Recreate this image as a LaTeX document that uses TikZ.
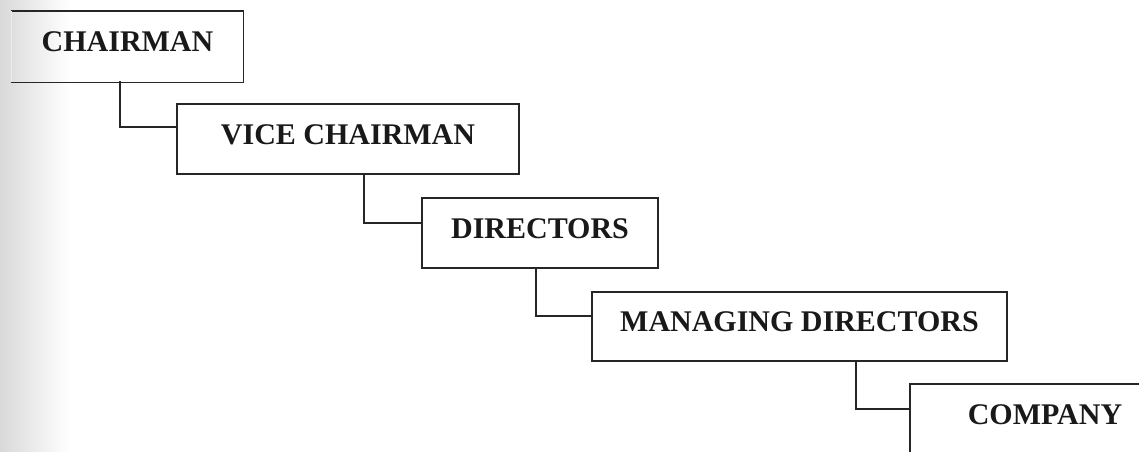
\documentclass[tikz,border=0pt]{standalone}
\usepackage{fontspec}
\setmainfont{Liberation Serif}
\begin{document}
\begin{tikzpicture}[x=1pt,y=-1pt,
  box/.style={draw=black!85, line width=1.2pt, inner sep=0pt, minimum height=70pt,
    text height=20.5pt, text depth=10pt,
    font=\fontsize{30}{36}\selectfont\bfseries, text=black!90},
  link/.style={draw=black!85, line width=1.2pt}]
\useasboundingbox (0,0) rectangle (1139,451);
\clip (0,0) rectangle (1139,451);
\shade[left color=black!15, right color=white] (0,0) rectangle (70,451);
% boxes
\node[box, draw=none, minimum width=231pt] (chair) at (127.5,46.5) {CHAIRMAN};
\draw[black!85, line width=1.2pt] (chair.north west) -- (chair.north east) -- (chair.south east) -- (chair.south west);
\draw[black!8, line width=1pt] (chair.north west) -- (chair.south west);
\node[box, minimum width=342pt] (vice) at (348,139) {VICE CHAIRMAN};
\node[box, minimum width=236pt] (dir) at (540,233) {DIRECTORS};
\node[box, minimum width=415pt, minimum height=69pt] (md) at (799.5,326.5) {MANAGING DIRECTORS};
\node[box, minimum width=270pt] (co) at (1045,419) {COMPANY};
% connector start points
\coordinate (c1) at (120,81);
\coordinate (c2) at (364,174);
\coordinate (c3) at (536,268);
\coordinate (c4) at (856,361);
\draw[link] (c1) |- ([yshift=12pt]vice.west);
\draw[link] (c2) |- ([yshift=10pt]dir.west);
\draw[link] (c3) |- ([yshift=10.5pt]md.west);
\draw[link] (c4) |- ([yshift=10pt]co.west);
\end{tikzpicture}
\end{document}
